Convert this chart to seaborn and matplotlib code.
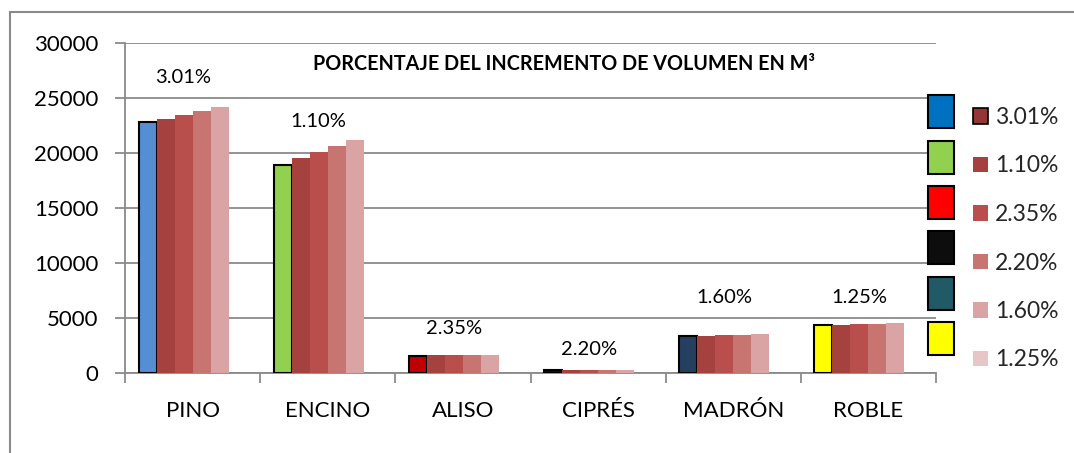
import numpy as np
import pandas as pd
import matplotlib
matplotlib.use("Agg")
import matplotlib.pyplot as plt
import seaborn as sns
from matplotlib.patches import Patch
from matplotlib.lines import Line2D

# ---------- data ----------
CATEGORIES = ["PINO", "ENCINO", "ALISO", "CIPRÉS", "MADRÓN", "ROBLE"]
SERIES = ["3.01%", "1.10%", "2.35%", "2.20%", "1.60%", "1.25%"]
S1 = [22800, 18950, 1580, 310, 3400, 4360]
S2 = [23100, 19500, 1600, 240, 3400, 4390]
S3 = [23500, 20050, 1620, 250, 3450, 4420]
S4 = [23850, 20600, 1640, 255, 3480, 4460]
S5 = [24200, 21150, 1670, 260, 3540, 4540]
S6 = [0, 0, 0, 0, 0, 0]
GROUP_LABELS = ["3.01%", "1.10%", "2.35%", "2.20%", "1.60%", "1.25%"]
TITLE = "PORCENTAJE DEL INCREMENTO DE VOLUMEN EN M³"

# ---------- styles ----------
SERIES_COLORS = ["#943634", "#A5413F", "#B84F4C", "#C87471", "#D9A4A3", "#E6C6C6"]
FIRST_BAR_COLORS = ["#558ED5", "#92D050", "#C00000", "#0D0D0D", "#243F60", "#FFFF00"]
LEGEND_BOX_COLORS = ["#0070C0", "#92D050", "#FF0000", "#0D0D0D", "#215967", "#FFFF00"]
LABEL_Y = [26900, 22900, 4000, 2100, 6900, 6900]
GRAY = "#8A8A8A"

sns.set_style("white")
plt.rcParams["font.family"] = ["Lato", "DejaVu Sans"]

rows = []
for s, vals in zip(SERIES, [S1, S2, S3, S4, S5, S6]):
    for c, v in zip(CATEGORIES, vals):
        rows.append({"cat": c, "serie": s, "val": v})
df = pd.DataFrame(rows)

W, H = 1074, 453
fig = plt.figure(figsize=(W / 100, H / 100), dpi=100)
ax = fig.add_axes([125 / W, 1 - 373 / H, (936 - 125) / W, (373 - 43) / H])

sns.barplot(data=df, x="cat", y="val", hue="serie", order=CATEGORIES,
            hue_order=SERIES, palette=SERIES_COLORS, width=0.8,
            saturation=1, errorbar=None, legend=False, ax=ax)

for i, cont in enumerate(ax.containers):
    for j, bar in enumerate(cont):
        if i == 0:
            bar.set_facecolor(FIRST_BAR_COLORS[j])
            bar.set_edgecolor("black")
            bar.set_linewidth(1.5)
        else:
            bar.set_edgecolor("none")
        bar.set_zorder(3)

# group labels, centred on the third bar of each group
for j, bar in enumerate(ax.containers[2]):
    xc = bar.get_x() + bar.get_width() / 2
    ax.text(xc, LABEL_Y[j], GROUP_LABELS[j], ha="center", va="center",
            fontsize=14.5, color="black")

ax.set_ylim(0, 30000)
ax.set_xlim(-0.5, len(CATEGORIES) - 0.5)
ax.set_yticks(np.arange(0, 30001, 5000))
ax.yaxis.grid(True, color=GRAY, linewidth=1.3)
ax.set_axisbelow(True)
ax.set_xlabel("")
ax.set_ylabel("")

for sp in ["top", "right"]:
    ax.spines[sp].set_visible(False)
for sp in ["left", "bottom"]:
    ax.spines[sp].set_color(GRAY)
    ax.spines[sp].set_linewidth(1.3)

ax.tick_params(axis="y", length=7, width=1.3, color=GRAY, pad=12,
               labelsize=16, labelcolor="black", left=True)
ax.set_xticks(np.arange(-0.5, len(CATEGORIES), 1), minor=True)
ax.tick_params(axis="x", which="minor", length=7, width=1.3, color=GRAY,
               bottom=True)
ax.tick_params(axis="x", which="major", length=0, pad=20, labelsize=16,
               labelcolor="black")

fig.text(564 / W, 1 - 64 / H, TITLE, ha="center", va="center",
         fontsize=14.2, fontweight="bold", color="black")

# legend: coloured point boxes + series entries
box_handles = [Patch(facecolor=c, edgecolor="black", linewidth=1.5)
               for c in LEGEND_BOX_COLORS]
fs1 = 10
px1 = fs1 * 100 / 72
hh1 = (33 / px1 - 0.245) / 0.65
leg1 = fig.legend(handles=box_handles, labels=[""] * len(box_handles),
                  loc="upper left", bbox_to_anchor=(928 / W, 1 - 95 / H),
                  frameon=False, fontsize=fs1, borderpad=0, borderaxespad=0,
                  handlelength=26 / px1, handleheight=hh1,
                  handletextpad=0, labelspacing=12.5 / px1)

ser_handles = []
for k, c in enumerate(SERIES_COLORS):
    if k == 0:
        ser_handles.append(Patch(facecolor=c, edgecolor="black", linewidth=1.2))
    else:
        ser_handles.append(Patch(facecolor=c, edgecolor="none"))
fs2 = 16.5
px2 = fs2 * 100 / 72
leg2 = fig.legend(handles=ser_handles, labels=SERIES, loc="upper left",
                  bbox_to_anchor=(973 / W, 1 - 107 / H), frameon=False,
                  fontsize=fs2, borderpad=0, borderaxespad=0,
                  handlelength=15 / px2, handleheight=15 / px2,
                  handletextpad=7 / px2, labelspacing=1.2)

# outer chart frame (cropped: only top and left edges visible)
fig.add_artist(Line2D([10 / W, 1.0], [1 - 12 / H, 1 - 12 / H],
                      transform=fig.transFigure, color=GRAY, linewidth=1.5))
fig.add_artist(Line2D([10 / W, 10 / W], [1 - 12 / H, 0.0],
                      transform=fig.transFigure, color=GRAY, linewidth=1.5))

fig.savefig("out.png", dpi=100)
